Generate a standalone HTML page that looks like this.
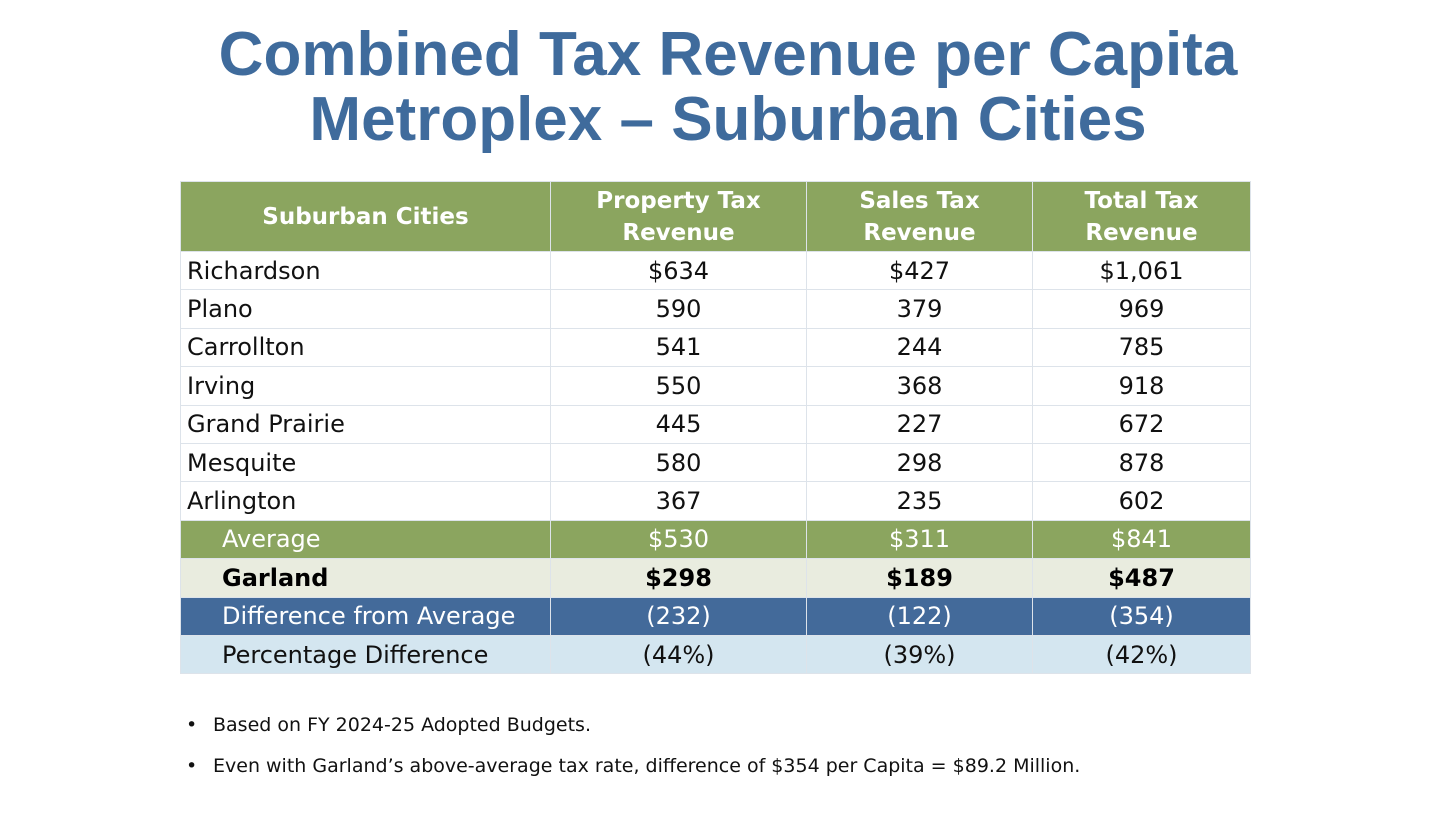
<!DOCTYPE html>
<html><head><meta charset="utf-8"><style>
html,body{margin:0;padding:0;background:#fff;width:1456px;height:819px;overflow:hidden;font-family:"Liberation Sans",sans-serif}
.title{position:absolute;left:0;width:1456px;text-align:center;color:#3f6b9c;font-weight:bold;font-size:62px;line-height:46px;margin:0}
table{position:absolute;left:180px;top:181px;border-collapse:collapse;width:1070px;table-layout:fixed}
td,th{border:1px solid #dde3ea;padding:0;font-family:"DejaVu Sans",sans-serif;font-size:24px;height:37.4px;text-align:center;color:#111}
th{background:#8ba55f;color:#fff;font-weight:bold;height:69px;line-height:32px;font-size:23px}
td.c{text-align:left;padding-left:6px}
td.i{text-align:left;padding-left:41px}
tr.avg td{background:#8ba55f;color:#fff}
tr.gar td{background:#e9ecdf;font-weight:bold;color:#000}
tr.dif td{background:#436a9a;color:#fff}
tr.pct td{background:#d4e6f0;color:#111}
.b{position:absolute;left:186px;font-size:19px;color:#111;font-family:"DejaVu Sans",sans-serif}
.b span{position:absolute;left:27px;white-space:nowrap}
</style></head><body>
<h1 class="title" style="top:32px">Combined Tax Revenue per Capita</h1>
<h1 class="title" style="top:97px">Metroplex – Suburban Cities</h1>
<table>
<colgroup><col style="width:370px"><col style="width:256px"><col style="width:226px"><col style="width:218px"></colgroup>
<tr><th>Suburban Cities</th><th>Property Tax<br>Revenue</th><th>Sales Tax<br>Revenue</th><th>Total Tax<br>Revenue</th></tr>
<tr><td class="c">Richardson</td><td>$634</td><td>$427</td><td>$1,061</td></tr>
<tr><td class="c">Plano</td><td>590</td><td>379</td><td>969</td></tr>
<tr><td class="c">Carrollton</td><td>541</td><td>244</td><td>785</td></tr>
<tr><td class="c">Irving</td><td>550</td><td>368</td><td>918</td></tr>
<tr><td class="c">Grand Prairie</td><td>445</td><td>227</td><td>672</td></tr>
<tr><td class="c">Mesquite</td><td>580</td><td>298</td><td>878</td></tr>
<tr><td class="c">Arlington</td><td>367</td><td>235</td><td>602</td></tr>
<tr class="avg"><td class="i">Average</td><td>$530</td><td>$311</td><td>$841</td></tr>
<tr class="gar"><td class="i">Garland</td><td>$298</td><td>$189</td><td>$487</td></tr>
<tr class="dif"><td class="i">Difference from Average</td><td>(232)</td><td>(122)</td><td>(354)</td></tr>
<tr class="pct"><td class="i">Percentage Difference</td><td>(44%)</td><td>(39%)</td><td>(42%)</td></tr>
</table>
<div class="b" style="top:714px">•<span>Based on FY 2024-25 Adopted Budgets.</span></div>
<div class="b" style="top:755px">•<span>Even with Garland’s above-average tax rate, difference of $354 per Capita = $89.2 Million.</span></div>
</body></html>
